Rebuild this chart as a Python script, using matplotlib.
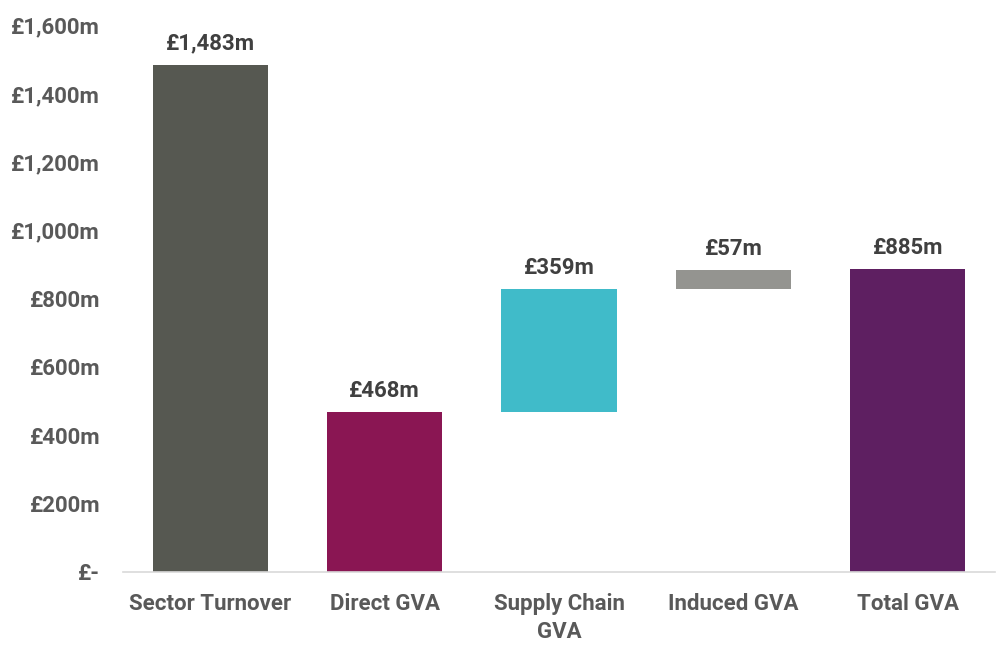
import matplotlib.pyplot as plt

categories = ['Sector Turnover', 'Direct GVA', 'Supply Chain\nGVA', 'Induced GVA', 'Total GVA']
values = [1483, 468, 359, 57, 885]
floating = [False, False, True, True, False]
colors = ['#565851', '#8A1653', '#40BBC9', '#949490', '#5E1F61']
yticks = [0, 200, 400, 600, 800, 1000, 1200, 1400, 1600]

plt.rcParams['font.family'] = ['Roboto', 'DejaVu Sans']
plt.rcParams['font.weight'] = 'bold'

fig = plt.figure(figsize=(9.97, 6.45), dpi=100)
ax = fig.add_axes([123/997, 73/645, 872/997, 547/645])

# waterfall: floating bars start where the previous one ended
bottoms = []
running = 0
for v, f in zip(values, floating):
    if f:
        bottoms.append(running)
        running += v
    else:
        bottoms.append(0)
        running = v

x = range(len(categories))
ax.bar(x, values, bottom=bottoms, width=0.66, color=colors, zorder=2)

for xi, v, b in zip(x, values, bottoms):
    ax.text(xi, b + v + 30, '£{:,}m'.format(v), ha='center', va='bottom',
            fontsize=16, fontweight='bold', color='#404040')

ax.set_xlim(-0.5, len(categories) - 0.5)
ax.set_ylim(0, 1600)
ax.set_yticks(yticks)
ax.set_yticklabels(['£-' if t == 0 else '£{:,}m'.format(t) for t in yticks])
ax.set_xticks(list(x))
ax.set_xticklabels(categories, linespacing=1.35)
ax.tick_params(axis='both', length=0, labelsize=16, labelcolor='#595959')
ax.tick_params(axis='y', pad=16.5)
ax.tick_params(axis='x', pad=15)
for lbl in ax.get_xticklabels() + ax.get_yticklabels():
    lbl.set_fontweight('bold')

for s in ['top', 'right', 'left']:
    ax.spines[s].set_visible(False)
ax.spines['bottom'].set_color('#D9D9D9')
ax.spines['bottom'].set_linewidth(1.2)

fig.savefig('out.png', dpi=100)
